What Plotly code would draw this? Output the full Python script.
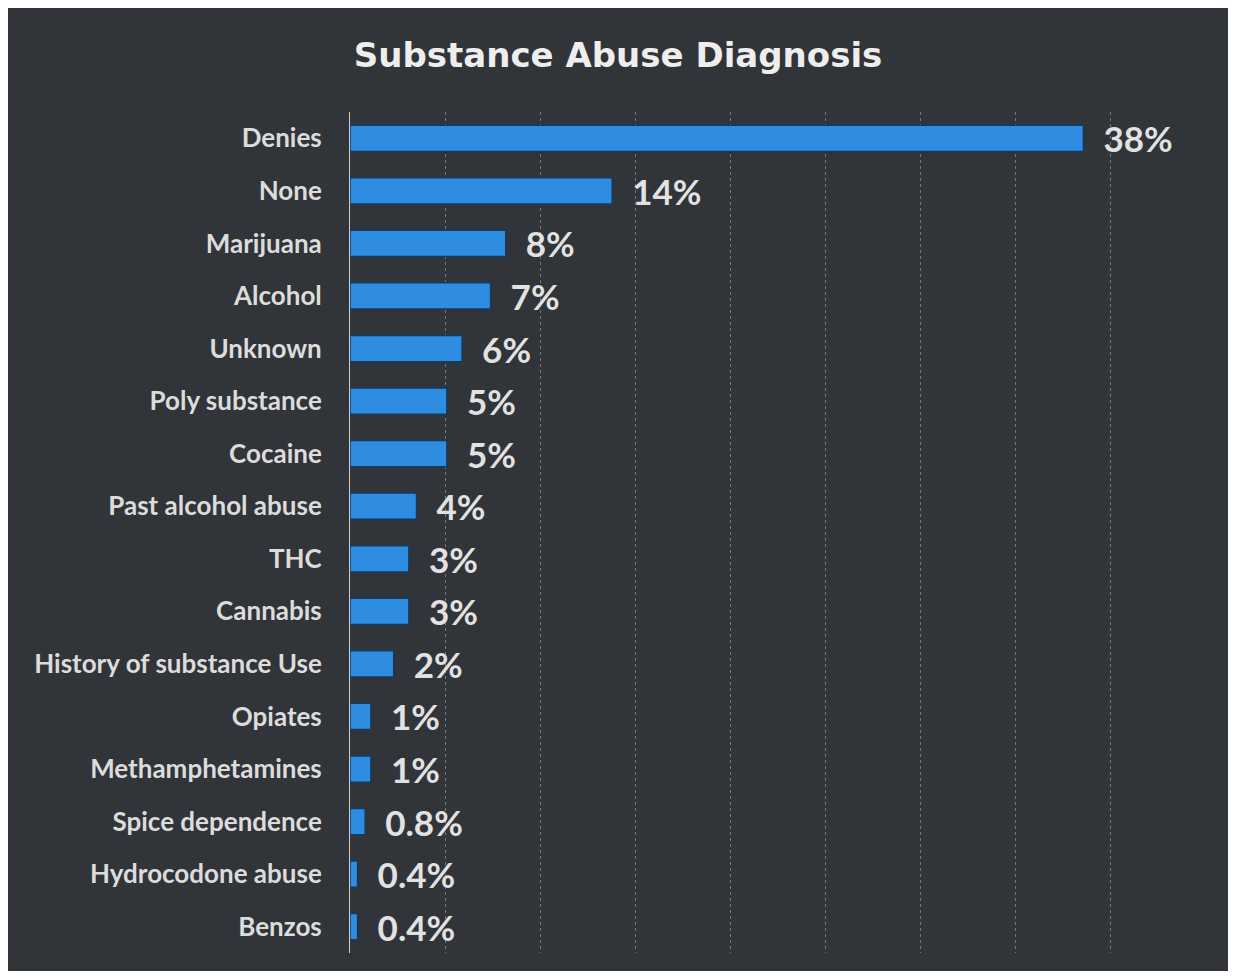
import plotly.graph_objects as go

categories = ["Denies", "None", "Marijuana", "Alcohol", "Unknown", "Poly substance",
              "Cocaine", "Past alcohol abuse", "THC", "Cannabis", "History of substance Use",
              "Opiates", "Methamphetamines", "Spice dependence", "Hydrocodone abuse", "Benzos"]
values = [38.6, 13.8, 8.2, 7.4, 5.9, 5.1, 5.1, 3.5, 3.1, 3.1, 2.3, 1.1, 1.1, 0.8, 0.4, 0.4]
value_labels = ["38%", "14%", "8%", "7%", "6%", "5%", "5%", "4%", "3%", "3%", "2%",
                "1%", "1%", "0.8%", "0.4%", "0.4%"]
x_ticks = [0, 5, 10, 15, 20, 25, 30, 35, 40, 45]

# page has an 8px body margin; figure sized to sit inside it
W, H = 1220, 963
L, R, T, B = 342, 23, 104, 18

bg = "#313438"

fig = go.Figure(go.Bar(
    y=categories, x=values, orientation="h",
    text=["  " + t for t in value_labels], textposition="outside",
    constraintext="none",
    textfont=dict(family="Lato", size=35, color="#e2e2e2", weight="bold"),
    cliponaxis=False,
    marker=dict(color="#2e8de0", line=dict(color="#173a5e", width=1.5)),
    width=0.5,
))

fig.update_layout(
    width=W, height=H,
    margin=dict(l=L, r=R, t=T, b=B),
    paper_bgcolor=bg, plot_bgcolor="rgba(0,0,0,0)",
    showlegend=False,
    title=dict(text="Substance Abuse Diagnosis", x=0.5, xref="container", xanchor="center",
               y=1 - 47 / H, yanchor="middle",
               font=dict(family="DejaVu Sans", size=34, color="#eeeeee", weight="bold")),
    font=dict(family="Lato", color="#e0e0e0"),
    xaxis=dict(range=[0, 45], tickvals=x_ticks, showticklabels=False, showgrid=True,
               gridcolor="rgba(200,200,200,0.45)", griddash="dot", gridwidth=1,
               zeroline=False, showline=False, fixedrange=True),
    yaxis=dict(autorange="reversed", showgrid=False, showline=True, linecolor="#cfcfcf",
               linewidth=1, ticks="", ticklabelstandoff=22,
               tickfont=dict(family="Lato", size=26, color="#dcdcdc", weight="bold"),
               zeroline=False),
    bargap=0.5,
)

fig.write_html("out.html")
